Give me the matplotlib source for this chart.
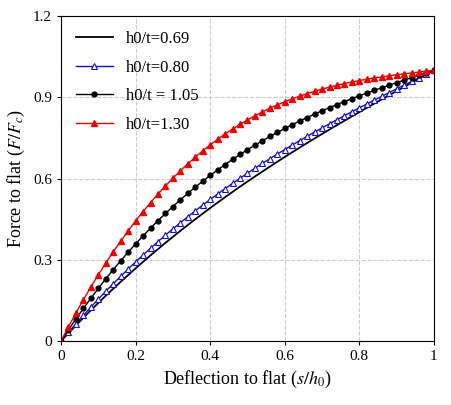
import matplotlib
matplotlib.use("Agg")
import matplotlib.pyplot as plt
from matplotlib.ticker import FuncFormatter

plt.rcParams['font.family'] = ['Liberation Serif', 'DejaVu Serif']
plt.rcParams['mathtext.fontset'] = 'stix'

x_m = [i / 50 for i in range(51)]
x_line = [i / 25 for i in range(26)]

f_069 = [0, 0.0579, 0.1137, 0.1673, 0.2188, 0.2685, 0.3164, 0.3625, 0.4070, 0.4499, 0.4914,
         0.5315, 0.5703, 0.6079, 0.6444, 0.6800, 0.7146, 0.7484, 0.7814, 0.8138, 0.8457,
         0.8771, 0.9081, 0.9389, 0.9695, 1.0]
f_080 = [0, 0.0324, 0.0641, 0.0950, 0.1252, 0.1547, 0.1836, 0.2117, 0.2391, 0.2660, 0.2922,
         0.3177, 0.3427, 0.3671, 0.3910, 0.4142, 0.4370, 0.4592, 0.4809, 0.5021, 0.5229,
         0.5431, 0.5630, 0.5824, 0.6014, 0.6200, 0.6382, 0.6560, 0.6735, 0.6907, 0.7075,
         0.7241, 0.7403, 0.7562, 0.7719, 0.7874, 0.8026, 0.8176, 0.8324, 0.8470, 0.8614,
         0.8757, 0.8899, 0.9039, 0.9178, 0.9317, 0.9454, 0.9591, 0.9728, 0.9864, 1.0]
f_105 = [0, 0.0414, 0.0815, 0.1203, 0.1579, 0.1943, 0.2295, 0.2635, 0.2963, 0.3281, 0.3588,
         0.3884, 0.4170, 0.4446, 0.4712, 0.4968, 0.5215, 0.5454, 0.5683, 0.5904, 0.6117,
         0.6321, 0.6519, 0.6709, 0.6891, 0.7067, 0.7236, 0.7399, 0.7556, 0.7707, 0.7852,
         0.7993, 0.8128, 0.8257, 0.8383, 0.8505, 0.8622, 0.8736, 0.8847, 0.8954, 0.9058,
         0.9160, 0.9260, 0.9356, 0.9452, 0.9546, 0.9638, 0.9730, 0.9821, 0.9910, 1.0]
f_130 = [0, 0.0528, 0.1035, 0.1524, 0.1995, 0.2445, 0.2878, 0.3293, 0.3689, 0.4070, 0.4434,
         0.4781, 0.5112, 0.5429, 0.5730, 0.6017, 0.6289, 0.6548, 0.6792, 0.7025, 0.7245,
         0.7452, 0.7648, 0.7833, 0.8006, 0.8169, 0.8321, 0.8464, 0.8598, 0.8724, 0.8839,
         0.8948, 0.9048, 0.9140, 0.9227, 0.9307, 0.9380, 0.9448, 0.9511, 0.9569, 0.9622,
         0.9672, 0.9718, 0.9759, 0.9799, 0.9837, 0.9871, 0.9905, 0.9938, 0.9969, 1.0]

fig = plt.figure(figsize=(4.52, 4.05), dpi=100)
ax = fig.add_axes([0.135, 0.158, 0.825, 0.802])

ax.plot(x_line, f_069, color='black', lw=1.3, label='h0/t=0.69')
ax.plot(x_m, f_080, color='#1010d0', lw=1.0, marker='^', ms=4.2, mfc='white', mec='#1010d0',
        mew=0.8, label='h0/t=0.80')
ax.plot(x_m, f_105, color='black', lw=1.0, marker='o', ms=3.5, label='h0/t = 1.05')
ax.plot(x_m, f_130, color='#ee0000', lw=1.0, marker='^', ms=4.2, label='h0/t=1.30')

ax.set_xlim(0, 1)
ax.set_ylim(0, 1.2)
ax.set_xticks([0, 0.2, 0.4, 0.6, 0.8, 1.0])
ax.set_yticks([0, 0.3, 0.6, 0.9, 1.2])
fmt = FuncFormatter(lambda v, p: '0' if v == 0 else ('1' if abs(v - 1) < 1e-9 else f'{v:g}'))
ax.xaxis.set_major_formatter(fmt)
ax.yaxis.set_major_formatter(fmt)
ax.tick_params(labelsize=11, length=3)
ax.grid(True, color='#cccccc', ls='--', lw=0.8)
ax.set_axisbelow(True)
ax.set_xlabel('Deflection to flat ($\\it{s/h_0}$)', fontsize=13)
ax.set_ylabel('Force to flat ($\\it{F/F_c}$)', fontsize=13)
ax.legend(loc='upper left', frameon=False, fontsize=12, handlelength=2.2,
          labelspacing=0.75, borderaxespad=0.5)

fig.savefig('out.png', dpi=100)
